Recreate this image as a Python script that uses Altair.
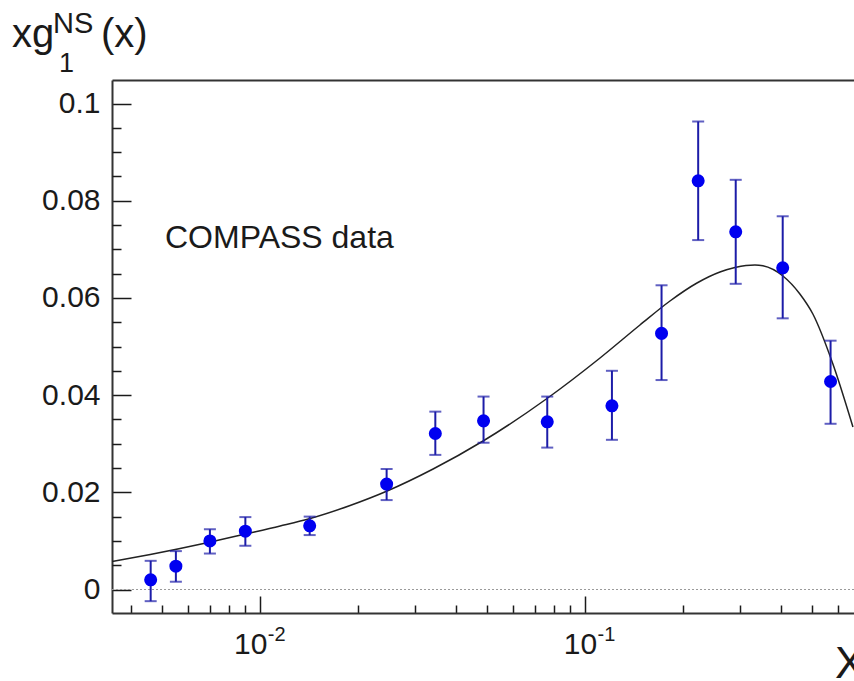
import altair as alt
import pandas as pd

# ---- data ----
data_x = [0.0046, 0.0055, 0.0070, 0.0090, 0.0142, 0.0245, 0.0346, 0.0487,
          0.0765, 0.121, 0.172, 0.223, 0.291, 0.406, 0.570]
data_y = [0.0020, 0.0048, 0.0100, 0.0120, 0.0131, 0.0217, 0.0321, 0.0347,
          0.0345, 0.0378, 0.0527, 0.0841, 0.0736, 0.0662, 0.0428]
data_hi = [0.0059, 0.0079, 0.0124, 0.0149, 0.0150, 0.0248, 0.0366, 0.0397,
           0.0397, 0.0450, 0.0626, 0.0963, 0.0843, 0.0768, 0.0512]
data_lo = [-0.0024, 0.0016, 0.0074, 0.0090, 0.0112, 0.0184, 0.0277, 0.0302,
           0.0292, 0.0308, 0.0431, 0.0719, 0.0629, 0.0558, 0.0341]

curve_x = [0.0035, 0.004587, 0.006918, 0.008867, 0.01152, 0.01425, 0.01891,
           0.02459, 0.03406, 0.04854, 0.07637, 0.1112, 0.1476, 0.1826,
           0.2211, 0.2602, 0.2894, 0.3129, 0.3336, 0.3529, 0.4066, 0.4586,
           0.5028, 0.5795, 0.668]
curve_y = [0.005761, 0.007202, 0.009671, 0.011317, 0.013066, 0.014609,
           0.017284, 0.020267, 0.024794, 0.030556, 0.039300, 0.047634,
           0.054424, 0.059362, 0.063066, 0.065329, 0.066255, 0.066667,
           0.066770, 0.066605, 0.064506, 0.060802, 0.056687, 0.046399,
           0.033436]

x_major = [0.01, 0.1]
x_minor = [0.004, 0.005, 0.006, 0.007, 0.008, 0.009,
           0.02, 0.03, 0.04, 0.05, 0.06, 0.07, 0.08, 0.09,
           0.2, 0.3, 0.4, 0.5, 0.6]
y_major = [0.0, 0.02, 0.04, 0.06, 0.08, 0.1]
y_minor = [0.005, 0.01, 0.015, 0.025, 0.03, 0.035, 0.045, 0.05, 0.055,
           0.065, 0.07, 0.075, 0.085, 0.09, 0.095]

x_domain = [0.003497, 0.673]
y_domain = [-0.004835, 0.10484]

FONT = "Liberation Sans"
TXT = "#1a1a1a"
FRAME = "#333333"
PT_COLOR = "#0000f0"
ERR_COLOR = "#1c1ca8"

curve_df = pd.DataFrame({"x": curve_x, "y": curve_y})
pts_df = pd.DataFrame({"x": data_x, "y": data_y, "lo": data_lo, "hi": data_hi})
caps_df = pd.DataFrame({"x": data_x + data_x, "y": data_lo + data_hi})

xs = alt.Scale(type="log", domain=x_domain, nice=False)
ys = alt.Scale(domain=y_domain, nice=False, zero=False)


def xax(**kw):
    base = dict(grid=False, title=None, domain=False, labels=False, ticks=False)
    base.update(kw)
    return alt.Axis(**base)


def yax(**kw):
    base = dict(grid=False, title=None, domain=False, labels=False, ticks=False)
    base.update(kw)
    return alt.Axis(**base)


# curve + major inward ticks
curve = alt.Chart(curve_df).mark_line(
    color="#222222", strokeWidth=1.5, interpolate="monotone", clip=True
).encode(
    x=alt.X("x:Q", scale=xs, axis=xax(orient="bottom", values=x_major, ticks=True,
                                      tickSize=17, offset=-17, tickColor=TXT, tickWidth=1.5)),
    y=alt.Y("y:Q", scale=ys, axis=yax(orient="left", values=y_major, ticks=True,
                                      tickSize=19, offset=-19, tickColor=TXT, tickWidth=1.5)),
)

# zero dotted line
zero = alt.Chart(pd.DataFrame({"z": [0.0]})).mark_rule(
    color="#9a9a9a", strokeWidth=1, strokeDash=[2, 2]
).encode(y=alt.Y("z:Q", scale=ys, axis=None))

# error bars (carry the tick labels)
err = alt.Chart(pts_df).mark_rule(color=ERR_COLOR, strokeWidth=2).encode(
    x=alt.X("x:Q", scale=xs, axis=xax(orient="bottom", values=x_major, labels=True,
                                      tickSize=0, labelExpr="'10'", labelFont=FONT,
                                      labelFontSize=30, labelColor=TXT,
                                      labelBaseline="alphabetic", labelAlign="center",
                                      labelPadding=40,
                                      labelOffset={"condition": {"test": "datum.value < 0.05", "value": -10},
                                                   "value": -5})),
    y=alt.Y("lo:Q", scale=ys, axis=yax(orient="left", values=y_major, labels=True,
                                       tickSize=0, format="~g", labelFont=FONT,
                                       labelFontSize=30, labelColor=TXT,
                                       labelPadding=12, labelAlign="right",
                                       labelBaseline="middle")),
    y2="hi:Q",
)

caps = alt.Chart(caps_df).mark_tick(
    color=ERR_COLOR, orient="horizontal", size=12, thickness=2
).encode(
    x=alt.X("x:Q", scale=xs, axis=xax(orient="bottom", values=x_major, labels=True,
                                      tickSize=0,
                                      labelExpr="datum.value < 0.05 ? '-2' : '-1'",
                                      labelFont=FONT, labelFontSize=20, labelColor=TXT,
                                      labelBaseline="alphabetic", labelAlign="left",
                                      labelPadding=27,
                                      labelOffset={"condition": {"test": "datum.value < 0.05", "value": 7},
                                                   "value": 12})),
    y=alt.Y("y:Q", scale=ys, axis=yax(orient="left", domain=True, domainColor=FRAME,
                                      domainWidth=2)),
)

pts = alt.Chart(pts_df).mark_circle(color=PT_COLOR, size=170, opacity=1).encode(
    x=alt.X("x:Q", scale=xs, axis=xax(orient="bottom", values=x_minor, ticks=True,
                                      tickSize=8, offset=-8, tickColor=TXT, tickWidth=1.5)),
    y=alt.Y("y:Q", scale=ys, axis=yax(orient="left", values=y_minor, ticks=True,
                                      tickSize=9, offset=-9, tickColor=TXT, tickWidth=1.5)),
)

frame_bottom = alt.Chart(curve_df).mark_point(opacity=0).encode(
    x=alt.X("x:Q", scale=xs, axis=xax(orient="bottom", domain=True, domainColor=FRAME,
                                      domainWidth=2)),
)
frame_top = alt.Chart(curve_df).mark_point(opacity=0).encode(
    x=alt.X("x:Q", scale=xs, axis=xax(orient="top", domain=True, domainColor=FRAME,
                                      domainWidth=2)),
)


def label(text, x, y, size, align="left"):
    return alt.Chart(pd.DataFrame({"t": [text]})).mark_text(
        font=FONT, fontSize=size, color=TXT, align=align, baseline="alphabetic"
    ).encode(text="t:N", x=alt.value(x), y=alt.value(y))


texts = [
    label("COMPASS data", 53, 168, 32),
    label("xg", -100, -33, 40),
    label("NS", -59, -47, 29),
    label("1", -53, -8, 27),
    label("(x)", -11, -33, 40),
    label("X", 723, 598, 44),
]

chart = alt.layer(
    zero, curve, err, caps, pts, frame_bottom, frame_top, *texts
).resolve_axis(x="independent", y="independent").properties(
    width=742, height=533, autosize="none",
    padding={"left": 112, "top": 80, "right": 0, "bottom": 68},
    background="white",
).configure_view(stroke=None)

chart.save("out.html", embed_options={"renderer": "svg", "actions": False})
